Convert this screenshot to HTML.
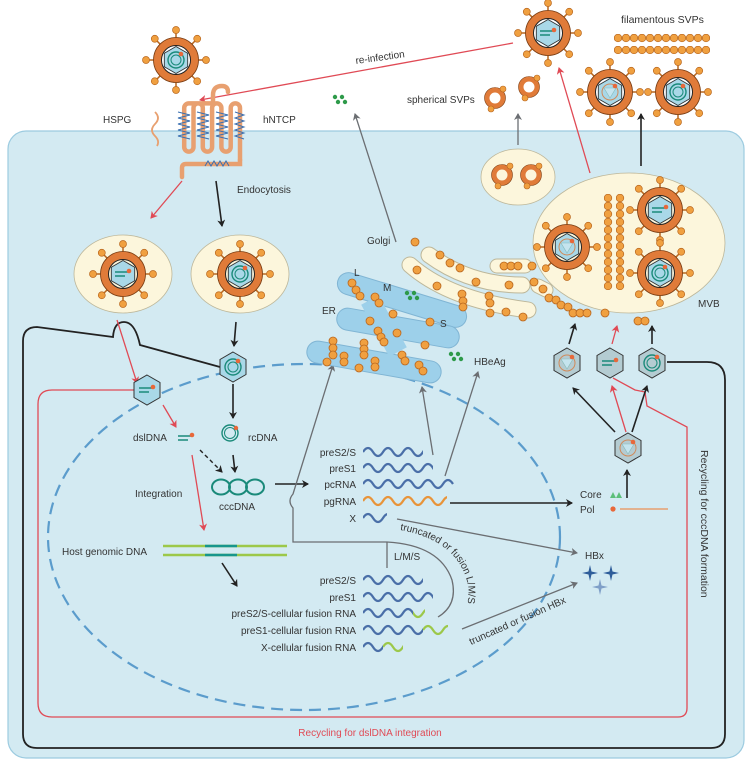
<!DOCTYPE html>
<html><head><meta charset="utf-8"><style>
html,body{margin:0;padding:0;background:#fff;}
svg{display:block;font-family:"Liberation Sans",sans-serif;}
</style></head><body>
<svg width="749" height="764" viewBox="0 0 749 764" xmlns="http://www.w3.org/2000/svg">
<defs>
<marker id="ab" markerWidth="8" markerHeight="8" refX="6" refY="4" orient="auto" markerUnits="userSpaceOnUse"><path d="M0,0 L7,4 L0,8 L2,4Z" fill="#222"/></marker>
<marker id="ar" markerWidth="8" markerHeight="8" refX="6" refY="4" orient="auto" markerUnits="userSpaceOnUse"><path d="M0,0 L7,4 L0,8 L2,4Z" fill="#e04a55"/></marker>
<marker id="ag" markerWidth="8" markerHeight="8" refX="6" refY="4" orient="auto" markerUnits="userSpaceOnUse"><path d="M0,0 L7,4 L0,8 L2,4Z" fill="#6b6e72"/></marker>
<g id="sp">
 <line x1="0" y1="-22" x2="0" y2="-29" stroke="#b8661e" stroke-width="1.5"/><circle cx="0" cy="-30" r="3.5" fill="#f0a040" stroke="#b8661e" stroke-width=".7"/>
</g>
<g id="shell">
 <use href="#sp"/><use href="#sp" transform="rotate(45)"/><use href="#sp" transform="rotate(90)"/><use href="#sp" transform="rotate(135)"/><use href="#sp" transform="rotate(180)"/><use href="#sp" transform="rotate(225)"/><use href="#sp" transform="rotate(270)"/><use href="#sp" transform="rotate(315)"/>
 <circle r="18.5" fill="none" stroke="#e07b39" stroke-width="8"/>
 <circle r="22.5" fill="none" stroke="#7a3d12" stroke-width=".8"/>
 <circle r="14.5" fill="none" stroke="#222" stroke-width="1"/>
</g>
<polygon id="hex" points="0,-15 13,-7.5 13,7.5 0,15 -13,7.5 -13,-7.5" fill="#a9d8e8" stroke="#333" stroke-width="1"/>
<polygon id="hexg" points="0,-15 13,-7.5 13,7.5 0,15 -13,7.5 -13,-7.5" fill="#b4ccd2" stroke="#333" stroke-width="1"/>
<g id="rc"><circle r="8" fill="none" stroke="#1a8a7a" stroke-width="1.4"/><circle r="5" fill="none" stroke="#1a8a7a" stroke-width="1"/><circle cx="5" cy="-6" r="2.3" fill="#e8683a"/></g>
<g id="ds"><line x1="-8" y1="-2" x2="5" y2="-2" stroke="#1a8a7a" stroke-width="1.5"/><line x1="-8" y1="2" x2="2" y2="2" stroke="#1a8a7a" stroke-width="1.5"/><circle cx="6" cy="-3" r="2.3" fill="#e8683a"/></g>
<g id="pg"><circle r="8" fill="none" stroke="#d08a5a" stroke-width="1"/><polygon points="-6,-4 6,-4 0,6" fill="#c5e4ee" stroke="#8bb" stroke-width=".6"/><circle cx="5" cy="-6" r="2.3" fill="#e8683a"/></g>
<g id="vrc"><use href="#shell"/><use href="#hex" transform="scale(.9)"/><use href="#rc"/></g>
<g id="vds"><use href="#shell"/><use href="#hex" transform="scale(.9)"/><use href="#ds"/></g>
<g id="vpg"><use href="#shell"/><use href="#hex" transform="scale(.9)"/><use href="#pg"/></g>
<g id="ring"><circle r="8" fill="none" stroke="#e07b39" stroke-width="5"/><circle r="10.5" fill="none" stroke="#7a3d12" stroke-width=".6"/><circle cx="8" cy="-9" r="3" fill="#f0a040" stroke="#b8661e" stroke-width=".6"/><circle cx="-4" cy="11" r="3" fill="#f0a040" stroke="#b8661e" stroke-width=".6"/></g>
<circle id="d" r="4" fill="#f0a040" stroke="#b8661e" stroke-width=".8"/>
<pattern id="bh" x="614" y="34" width="8" height="12" patternUnits="userSpaceOnUse"><circle cx="4" cy="4" r="3.8" fill="#f0a040" stroke="#b8661e" stroke-width=".7"/></pattern>
<pattern id="bv" x="604" y="194" width="12" height="8" patternUnits="userSpaceOnUse"><circle cx="4" cy="4" r="3.8" fill="#f0a040" stroke="#b8661e" stroke-width=".7"/></pattern>
<g id="gd"><circle cx="0" cy="0" r="2.2" fill="#2e9a4a"/><circle cx="7" cy="0" r="2.2" fill="#2e9a4a"/><circle cx="3" cy="5" r="2.2" fill="#2e9a4a"/><circle cx="10" cy="5" r="2.2" fill="#2e9a4a"/></g>
<path id="w" d="M0,0 q5,-8 10,0 t10,0 t10,0 t10,0 t10,0 t10,0 t10,0 t10,0 t10,0" fill="none" stroke-width="2.2"/>
<g id="star"><path d="M0,-8 L1.5,-1.5 L8,0 L1.5,1.5 L0,8 L-1.5,1.5 L-8,0 L-1.5,-1.5Z"/></g>
</defs>

<rect x="8" y="131" width="736" height="627" rx="18" fill="#d3eaf2" stroke="#9ccbe0" stroke-width="1.2"/>

<path d="M220,367 L140,345 Q135,322 124,322 Q114,322 113,337 L37,327 Q23,327 23,341 V734 Q23,748 37,748 H711 Q725,748 725,734 V380 Q725,362 707,362 H667" fill="none" stroke="#222" stroke-width="1.8"/>
<path d="M134,390 H52 Q38,390 38,404 V703 Q38,717 52,717 H678 Q687,717 687,708 V427 L647,406 L645,392 L635,390 L613,378" fill="none" stroke="#e04a55" stroke-width="1.3"/>
<text x="370" y="736" font-size="10" fill="#e04a55" text-anchor="middle">Recycling for dslDNA integration</text>
<text x="0" y="0" font-size="10.5" fill="#333" transform="translate(701,450) rotate(90)">Recycling for cccDNA formation</text>

<ellipse cx="304" cy="537" rx="256" ry="173" fill="none" stroke="#5b9ccc" stroke-width="2.2" stroke-dasharray="12,7"/>

<use href="#vrc" x="176" y="60"/>
<use href="#vds" x="548" y="33"/>
<path d="M513,43 L200,100" stroke="#e04a55" stroke-width="1.3" marker-end="url(#ar)"/>
<text x="0" y="0" font-size="10" fill="#333" transform="translate(356,64) rotate(-8)">re-infection</text>
<text x="621" y="23" font-size="10.5" fill="#333">filamentous SVPs</text>
<rect x="614" y="34" width="96" height="20" fill="url(#bh)"/>
<use href="#vpg" x="610" y="92"/>
<use href="#vrc" x="678" y="92"/>
<text x="407" y="103" font-size="10" fill="#333">spherical SVPs</text>
<use href="#ring" x="495" y="98"/>
<use href="#ring" x="529" y="87"/>
<use href="#gd" x="335" y="97"/>
<path d="M396,242 L355,114" stroke="#6b6e72" stroke-width="1.3" marker-end="url(#ag)"/>
<path d="M518,145 L518,114" stroke="#6b6e72" stroke-width="1.3" marker-end="url(#ag)"/>
<path d="M590,173 L559,68" stroke="#e04a55" stroke-width="1.3" marker-end="url(#ar)"/>
<path d="M641,166 L641,114" stroke="#222" stroke-width="1.6" marker-end="url(#ab)"/>

<text x="103" y="123" font-size="10" fill="#333">HSPG</text>
<text x="263" y="123" font-size="10" fill="#333">hNTCP</text>
<path d="M155,112 q6,6 0,12 q-6,6 0,12 q5,5 2,10" fill="none" stroke="#e8a070" stroke-width="1.8"/>
<path d="M240,160 V108 a4.65,4.65 0 0 0 -9.3,0 V147 a4.65,4.65 0 0 1 -9.3,0 V108 a4.65,4.65 0 0 0 -9.3,0 V147 a4.65,4.65 0 0 1 -9.3,0 V108 a4.65,4.65 0 0 0 -9.3,0 V147 a4.65,4.65 0 0 1 -9.3,0 V108 a4.65,4.65 0 0 1 4.65,-4.65 H213 V95 Q213,86 222,86 Q228,86 228,92" fill="none" stroke="#e8a070" stroke-width="4.5" stroke-linecap="round"/>
<path d="M240,160 V164 H186 Q182,164 182,168 V177" fill="none" stroke="#e8a070" stroke-width="4.5" stroke-linecap="round"/>
<g stroke="#3a6fb0" stroke-width="1" fill="none">
<path d="M178,112 l12,3 l-12,3 l12,3 l-12,3 l12,3 l-12,3 l12,3 l-12,3 l12,3"/>
<path d="M197,112 l12,3 l-12,3 l12,3 l-12,3 l12,3 l-12,3 l12,3 l-12,3 l12,3"/>
<path d="M216,112 l12,3 l-12,3 l12,3 l-12,3 l12,3 l-12,3 l12,3 l-12,3 l12,3"/>
<path d="M235,112 l9,3 l-9,3 l9,3 l-9,3 l9,3 l-9,3 l9,3 l-9,3 l9,3"/>
<path d="M205,166 l3,-5 l3,5 l3,-5 l3,5 l3,-5 l3,5 l3,-5 l3,5"/>
</g>
<text x="237" y="193" font-size="10" fill="#333">Endocytosis</text>
<path d="M182,181 L151,218" stroke="#e04a55" stroke-width="1.3" marker-end="url(#ar)"/>
<path d="M216,181 L222,226" stroke="#222" stroke-width="1.6" marker-end="url(#ab)"/>

<ellipse cx="123" cy="274" rx="49" ry="39" fill="#fcf6dc" stroke="#bdb79a" stroke-width=".8"/>
<ellipse cx="240" cy="274" rx="49" ry="39" fill="#fcf6dc" stroke="#bdb79a" stroke-width=".8"/>
<use href="#vds" x="123" y="274"/>
<use href="#vrc" x="240" y="274"/>
<path d="M117,320 L137,383" stroke="#e04a55" stroke-width="1.3" marker-end="url(#ar)"/>
<path d="M236,322 L234,346" stroke="#222" stroke-width="1.6" marker-end="url(#ab)"/>
<use href="#hex" x="233" y="367"/><use href="#rc" x="233" y="367"/>
<use href="#hex" x="147" y="390"/><use href="#ds" x="147" y="390"/>

<path d="M163,405 L176,427" stroke="#e04a55" stroke-width="1.3" marker-end="url(#ar)"/>
<path d="M233,384 L233,418" stroke="#222" stroke-width="1.6" marker-end="url(#ab)"/>
<text x="133" y="441" font-size="10" fill="#333">dslDNA</text>
<use href="#ds" x="186" y="438"/>
<g transform="translate(230,433)"><circle r="8" fill="none" stroke="#1a8a7a" stroke-width="1.4"/><circle r="5.5" fill="none" stroke="#1a8a7a" stroke-width="1"/><circle cx="6" cy="-5" r="2.2" fill="#e8683a"/></g>
<text x="248" y="441" font-size="10" fill="#333">rcDNA</text>
<path d="M200,450 L222,472" stroke="#222" stroke-width="1.4" stroke-dasharray="4,3" marker-end="url(#ab)"/>
<path d="M233,455 L235,472" stroke="#222" stroke-width="1.6" marker-end="url(#ab)"/>
<path d="M192,455 L204,530" stroke="#e04a55" stroke-width="1.3" marker-end="url(#ar)"/>
<text x="135" y="497" font-size="10" fill="#333">Integration</text>
<g fill="none" stroke="#1a8a7a" stroke-width="2"><ellipse cx="221" cy="487" rx="9" ry="7.5"/><ellipse cx="238" cy="487" rx="9" ry="7.5"/><ellipse cx="255" cy="487" rx="9" ry="7.5"/></g>
<text x="237" y="510" font-size="10" fill="#333" text-anchor="middle">cccDNA</text>
<path d="M275,484 L308,484" stroke="#222" stroke-width="1.6" marker-end="url(#ab)"/>
<text x="62" y="555" font-size="10" fill="#333">Host genomic DNA</text>
<g stroke-width="2.4"><line x1="163" y1="546" x2="287" y2="546" stroke="#9cc84a"/><line x1="163" y1="555" x2="287" y2="555" stroke="#9cc84a"/><line x1="205" y1="546" x2="237" y2="546" stroke="#17968c"/><line x1="205" y1="555" x2="237" y2="555" stroke="#17968c"/></g>
<path d="M222,563 L237,586" stroke="#222" stroke-width="1.6" marker-end="url(#ab)"/>

<g font-size="10" fill="#333" text-anchor="end">
<text x="356" y="456">preS2/S</text><text x="356" y="472">preS1</text><text x="356" y="488">pcRNA</text><text x="356" y="505">pgRNA</text><text x="356" y="522">X</text>
<text x="356" y="584">preS2/S</text><text x="356" y="601">preS1</text><text x="356" y="617">preS2/S-cellular fusion RNA</text><text x="356" y="634">preS1-cellular fusion RNA</text><text x="356" y="651">X-cellular fusion RNA</text>
</g>
<g stroke="#4a6fa8">
<svg x="363" y="440" width="60" height="30" overflow="hidden"><use href="#w" y="12"/></svg>
<svg x="363" y="456" width="70" height="30" overflow="hidden"><use href="#w" y="12"/></svg>
<svg x="363" y="472" width="92" height="30" overflow="hidden"><use href="#w" y="12"/></svg>
<svg x="363" y="506" width="24" height="30" overflow="hidden"><use href="#w" y="12"/></svg>
<svg x="363" y="568" width="60" height="30" overflow="hidden"><use href="#w" y="12"/></svg>
<svg x="363" y="585" width="70" height="30" overflow="hidden"><use href="#w" y="12"/></svg>
<svg x="363" y="601" width="50" height="30" overflow="hidden"><use href="#w" y="12"/></svg>
<svg x="363" y="618" width="60" height="30" overflow="hidden"><use href="#w" y="12"/></svg>
<svg x="363" y="635" width="20" height="30" overflow="hidden"><use href="#w" y="12"/></svg>
</g>
<g stroke="#e8943a"><svg x="363" y="489" width="84" height="30" overflow="hidden"><use href="#w" y="12"/></svg></g>
<g stroke="#9cc84a">
<svg x="413" y="601" width="12" height="30" overflow="hidden"><use href="#w" x="-10" y="12"/></svg>
<svg x="423" y="618" width="25" height="30" overflow="hidden"><use href="#w" y="12"/></svg>
<svg x="383" y="635" width="20" height="30" overflow="hidden"><use href="#w" y="12"/></svg>
</g>

<path d="M387,542 H293 V508 Q287,501 293,494 L333,365" fill="none" stroke="#6b6e72" stroke-width="1.3" marker-end="url(#ag)"/>
<line x1="387" y1="542" x2="387" y2="568" stroke="#6b6e72" stroke-width="1.3"/>
<text x="394" y="560" font-size="10" fill="#333">L/M/S</text>
<path d="M387,542 Q440,545 452,580 Q458,605 438,617" fill="none" stroke="#6b6e72" stroke-width="1.3"/>
<path id="arcT" d="M400,530 Q458,540 468,585 Q470,605 462,620" fill="none"/>
<text font-size="10" fill="#333"><textPath href="#arcT">truncated or fusion L/M/S</textPath></text>
<path d="M433,455 L422,387" stroke="#6b6e72" stroke-width="1.3" marker-end="url(#ag)"/>
<path d="M445,476 L478,372" stroke="#6b6e72" stroke-width="1.3" marker-end="url(#ag)"/>
<path d="M397,519 L577,553" stroke="#6b6e72" stroke-width="1.3" marker-end="url(#ag)"/>
<path d="M462,629 L577,583" stroke="#6b6e72" stroke-width="1.3" marker-end="url(#ag)"/>
<text x="0" y="0" font-size="10" fill="#333" transform="translate(471,645) rotate(-24)">truncated or fusion HBx</text>
<text x="585" y="559" font-size="10" fill="#333">HBx</text>
<g fill="#2e5d9a"><use href="#star" x="590" y="573"/><use href="#star" x="611" y="573"/></g>
<g fill="#7f9fc8"><use href="#star" x="600" y="587"/></g>

<path d="M450,503 L572,503" stroke="#222" stroke-width="1.6" marker-end="url(#ab)"/>
<text x="580" y="498" font-size="10" fill="#333">Core</text>
<text x="580" y="513" font-size="10" fill="#333">Pol</text>
<path d="M610,498 l3,-6 l3,6Z M616,498 l3,-6 l3,6Z" fill="#5cbf7a"/>
<circle cx="613" cy="509" r="2.6" fill="#e8683a"/>
<line x1="620" y1="509" x2="668" y2="509" stroke="#e8a070" stroke-width="1.5"/>
<path d="M627,498 L627,470" stroke="#222" stroke-width="1.6" marker-end="url(#ab)"/>
<use href="#hexg" x="628" y="448"/><use href="#pg" x="628" y="448"/>
<path d="M615,432 L573,388" stroke="#222" stroke-width="1.6" marker-end="url(#ab)"/>
<path d="M626,432 L612,386" stroke="#e04a55" stroke-width="1.3" marker-end="url(#ar)"/>
<path d="M632,432 L647,386" stroke="#222" stroke-width="1.6" marker-end="url(#ab)"/>
<use href="#hexg" x="567" y="363"/><use href="#pg" x="567" y="363"/>
<use href="#hexg" x="610" y="363"/><use href="#ds" x="610" y="363"/>
<use href="#hexg" x="652" y="363"/><use href="#rc" x="652" y="363"/>
<path d="M569,344 L575,324" stroke="#222" stroke-width="1.6" marker-end="url(#ab)"/>
<path d="M612,344 L617,326" stroke="#e04a55" stroke-width="1.3" marker-end="url(#ar)"/>
<path d="M652,344 L652,326" stroke="#222" stroke-width="1.6" marker-end="url(#ab)"/>

<ellipse cx="518" cy="177" rx="37" ry="28" fill="#fcf6dc" stroke="#bdb79a" stroke-width=".8"/>
<use href="#ring" x="502" y="175"/><use href="#ring" x="531" y="175"/>
<ellipse cx="629" cy="243" rx="96" ry="70" fill="#fcf6dc" stroke="#bdb79a" stroke-width=".8"/>
<use href="#vpg" x="567" y="247"/>
<use href="#vds" x="660" y="210"/>
<use href="#vrc" x="660" y="273"/>
<rect x="604" y="194" width="24" height="96" fill="url(#bv)"/>
<text x="698" y="307" font-size="10" fill="#333">MVB</text>

<g fill="none" stroke-linecap="round">
<path d="M429,255 Q470,285 522,285" stroke="#bdb79a" stroke-width="17"/><path d="M429,255 Q470,285 522,285" stroke="#fcf6dc" stroke-width="15"/>
<path d="M410,265 Q450,300 528,310" stroke="#bdb79a" stroke-width="17"/><path d="M410,265 Q450,300 528,310" stroke="#fcf6dc" stroke-width="15"/>
<path d="M497,266 H525" stroke="#bdb79a" stroke-width="15"/><path d="M497,266 H525" stroke="#fcf6dc" stroke-width="13"/>
<path d="M538,286 L546,290" stroke="#bdb79a" stroke-width="15"/><path d="M538,286 L546,290" stroke="#fcf6dc" stroke-width="13"/>
</g>
<text x="367" y="244" font-size="10" fill="#333">Golgi</text>
<g fill="#9dd0ea" stroke="#80b5d4" stroke-width="1">
<rect x="-67" y="-11" width="134" height="22" rx="11" transform="translate(402,300) rotate(17)"/>
<rect x="-62" y="-11" width="124" height="22" rx="11" transform="translate(398,328) rotate(10)"/>
<rect x="-68" y="-11" width="136" height="22" rx="11" transform="translate(374,362) rotate(10)"/>
</g>
<path d="M370,300 L398,352" stroke="#9dd0ea" stroke-width="20"/>
<text x="354" y="276" font-size="10" fill="#333">L</text>
<text x="383" y="291" font-size="10" fill="#333">M</text>
<text x="322" y="314" font-size="10" fill="#333">ER</text>
<text x="440" y="327" font-size="10" fill="#333">S</text>
<text x="474" y="365" font-size="10" fill="#333">HBeAg</text>
<use href="#gd" x="407" y="293"/>
<use href="#gd" x="451" y="354"/>
<g>
<use href="#d" x="352" y="283"/><use href="#d" x="356" y="290"/><use href="#d" x="360" y="296"/><use href="#d" x="375" y="297"/><use href="#d" x="379" y="303"/>
<use href="#d" x="393" y="314"/><use href="#d" x="370" y="321"/><use href="#d" x="430" y="322"/><use href="#d" x="378" y="331"/><use href="#d" x="381" y="337"/><use href="#d" x="384" y="342"/><use href="#d" x="397" y="333"/><use href="#d" x="425" y="345"/>
<use href="#d" x="333" y="341"/><use href="#d" x="333" y="348"/><use href="#d" x="333" y="355"/><use href="#d" x="327" y="362"/><use href="#d" x="344" y="356"/><use href="#d" x="344" y="362"/><use href="#d" x="364" y="343"/><use href="#d" x="364" y="349"/><use href="#d" x="364" y="355"/><use href="#d" x="375" y="361"/><use href="#d" x="375" y="367"/><use href="#d" x="359" y="368"/><use href="#d" x="402" y="355"/><use href="#d" x="405" y="361"/><use href="#d" x="419" y="365"/><use href="#d" x="423" y="371"/>
<use href="#d" x="415" y="242"/><use href="#d" x="440" y="255"/><use href="#d" x="450" y="263"/><use href="#d" x="460" y="268"/><use href="#d" x="476" y="282"/><use href="#d" x="417" y="270"/><use href="#d" x="437" y="286"/><use href="#d" x="462" y="294"/><use href="#d" x="463" y="301"/><use href="#d" x="463" y="307"/><use href="#d" x="489" y="296"/><use href="#d" x="509" y="285"/><use href="#d" x="490" y="303"/><use href="#d" x="490" y="313"/><use href="#d" x="506" y="312"/><use href="#d" x="523" y="317"/>
<use href="#d" x="504" y="266"/><use href="#d" x="511" y="266"/><use href="#d" x="518" y="266"/><use href="#d" x="532" y="266"/><use href="#d" x="534" y="282"/><use href="#d" x="543" y="289"/>
<use href="#d" x="549" y="298"/><use href="#d" x="556" y="300"/><use href="#d" x="561" y="305"/><use href="#d" x="568" y="307"/><use href="#d" x="573" y="313"/><use href="#d" x="580" y="313"/><use href="#d" x="587" y="313"/><use href="#d" x="605" y="313"/><use href="#d" x="638" y="321"/><use href="#d" x="645" y="321"/>
</g>
</svg>
</body></html>
